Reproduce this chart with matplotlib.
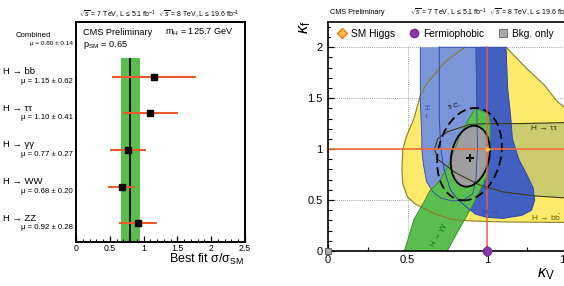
import numpy as np
import matplotlib
matplotlib.use("Agg")
import matplotlib.pyplot as plt
from matplotlib.patches import Ellipse
from matplotlib.lines import Line2D
import matplotlib.transforms as mtransforms

plt.rcParams['font.family'] = ['Liberation Sans', 'DejaVu Sans']
plt.rcParams['mathtext.fontset'] = 'custom'
plt.rcParams['mathtext.rm'] = 'Liberation Sans'
plt.rcParams['mathtext.it'] = 'Liberation Sans:italic'
plt.rcParams['mathtext.sf'] = 'Liberation Sans'
plt.rcParams['mathtext.bf'] = 'Liberation Sans:bold'

# ---------------- left panel data ----------------
channels = ['H → bb', 'H → ττ', 'H → γγ', 'H → WW', 'H → ZZ']
mu = [1.15, 1.10, 0.77, 0.68, 0.92]
mu_err = [0.62, 0.41, 0.27, 0.20, 0.28]
comb_mu = 0.80
comb_err = 0.14
p_sm = 0.65
m_h = 125.7

# ---------------- right panel data (contours) ----------------
bb_kv = [0.86, 0.74, 0.70, 0.616, 0.58, 0.54, 0.49, 0.47, 0.465, 0.47, 0.50, 0.55, 0.60, 0.68, 0.78, 0.90,
         1.10, 1.50, 1.70, 1.78, 1.78, 1.70, 1.55, 1.44, 1.36, 1.25, 1.12]
bb_kf = [2.00, 1.86, 1.79, 1.63, 1.52, 1.30, 1.11, 0.99, 0.80, 0.66, 0.53, 0.46, 0.42, 0.36, 0.31, 0.295,
         0.285, 0.28, 0.28, 0.40, 0.80, 1.10, 1.33, 1.47, 1.63, 1.79, 2.00]
tt_kv = [0.67, 0.69, 0.75, 0.89, 1.00, 1.20, 1.50, 1.80, 1.85, 1.80, 1.50, 1.30, 1.10, 0.95, 0.80, 0.69, 0.67]
tt_kf = [1.00, 1.10, 1.17, 1.24, 1.25, 1.25, 1.26, 1.26, 0.90, 0.52, 0.52, 0.54, 0.58, 0.65, 0.77, 0.90, 1.00]
zz_kv = [0.70, 1.12, 1.13, 1.15, 1.16, 1.20, 1.25, 1.29, 1.30, 1.28, 1.22, 1.10, 1.00, 0.93, 0.88, 0.82,
         0.77, 0.73, 0.71, 0.70, 0.70]
zz_kf = [2.00, 2.00, 1.60, 1.30, 1.10, 0.90, 0.75, 0.62, 0.50, 0.40, 0.35, 0.32, 0.33, 0.36, 0.42, 0.50,
         0.60, 0.80, 1.00, 1.30, 2.00]
ww_kv = [0.58, 0.58, 0.59, 0.59, 0.60, 0.62, 0.66, 0.71, 0.78, 0.85, 0.91, 0.93, 0.94, 0.935, 0.93]
ww_kf = [2.00, 1.50, 1.10, 1.00, 0.85, 0.68, 0.58, 0.52, 0.49, 0.50, 0.56, 0.70, 1.00, 1.50, 2.00]
gg_kv = [0.48, 0.75, 0.82, 0.90, 0.94, 1.00, 1.02, 1.02, 1.01, 0.925, 0.887, 0.824, 0.76, 0.70, 0.64,
         0.60, 0.54, 0.48]
gg_kf = [0.00, 0.00, 0.20, 0.42, 0.54, 0.74, 1.00, 1.25, 1.35, 1.40, 1.30, 1.11, 0.85, 0.68, 0.59,
         0.47, 0.31, 0.00]
# combined best fit and 68% / 95% regions (centre kV, centre kf, width, height, tilt in degrees)
best_fit = (0.893, 0.91)
cl68 = (0.895, 0.93, 0.24, 0.60, -5.5)
cl95 = (0.890, 0.95, 0.40, 0.91, -5.5)
sm_point = (1.0, 1.0)
fermiophobic = (1.0, 0.0)
bkg_only = (0.0, 0.0)

# ---------------- figure ----------------
W, H = 564, 286
fig = plt.figure(figsize=(W / 100, H / 100), dpi=100)

# ===== left panel =====
ax1 = fig.add_axes([76 / W, (H - 241.7) / H, 169 / W, 220 / H])
n = len(channels)
ypos = [n - i - 0.5 for i in range(n)]
ax1.set_xlim(0, 2.5)
ax1.set_ylim(0, n + 1)
ax1.fill_betweenx([0, n], comb_mu - comb_err, comb_mu + comb_err, color='#5bbd4e', lw=0, zorder=1)
ax1.vlines(comb_mu, 0, n, color='black', lw=1.3, zorder=2)
ax1.errorbar(mu, ypos, xerr=mu_err, fmt='s', color='black', ms=4.6, ecolor='#ee5a2a',
             elinewidth=1.5, capsize=0, zorder=3)
ax1.set_yticks([])
ax1.set_xticks(np.arange(0, 2.51, 0.5))
ax1.set_xticklabels(['0', '0.5', '1', '1.5', '2', '2.5'])
ax1.set_xticks(np.arange(0, 2.51, 0.1), minor=True)
ax1.tick_params(axis='x', which='major', direction='in', length=4.5, width=0.9, labelsize=6.3, pad=2)
ax1.tick_params(axis='x', which='minor', direction='in', length=2.5, width=0.8)
for s in ax1.spines.values():
    s.set_linewidth(1.4)

trans = mtransforms.blended_transform_factory(ax1.transAxes, ax1.transData)
for name, y, m, e in zip(channels, ypos, mu, mu_err):
    ax1.text(-0.432, y + 0.14, name, transform=trans, ha='left', va='center', fontsize=6.8)
    ax1.text(-0.018, y - 0.12, f'μ = {m:.2f} ± {e:.2f}', transform=trans, ha='right', va='center',
             fontsize=5.6)
ax1.text(-0.355, n + 0.63, 'Combined', transform=trans, ha='left', va='center', fontsize=5.6)
ax1.text(-0.018, n + 0.41, f'μ = {comb_mu:.2f} ± {comb_err:.2f}', transform=trans, ha='right',
         va='center', fontsize=4.6)
ax1.text(0.041, n + 0.70, 'CMS Preliminary', transform=trans, ha='left', va='center', fontsize=6.6)
ax1.text(0.527, n + 0.70, 'm$_{\\rm H}$ = ' + f'{m_h} GeV', transform=trans, ha='left', va='center',
         fontsize=6.6)
ax1.text(0.041, n + 0.37, 'p$_{\\rm SM}$ = ' + f'{p_sm:.2f}', transform=trans, ha='left', va='center',
         fontsize=6.6)
lumi = '$\\sqrt{s}$ = 7 TeV, L ≤ 5.1 fb$^{-1}$  $\\sqrt{s}$ = 8 TeV, L ≤ 19.6 fb$^{-1}$'
fig.text(79 / W, (H - 15) / H, lumi, ha='left', va='center', fontsize=5)
fig.text(244 / W, (H - 263) / H, 'Best fit σ/σ$_{\\rm SM}$', ha='right', va='baseline', fontsize=9)

# ===== right panel =====
ax2 = fig.add_axes([328 / W, (H - 251) / H, 318 / W, 229.3 / H])
ax2.set_xlim(0, 2.0)
ax2.set_ylim(0, 2.25)
ax2.set_axisbelow(True)
ax2.grid(True, which='major', ls=(0, (1, 1.5)), color='#888888', lw=0.6, zorder=0)

ax2.fill(bb_kv, bb_kf, color='#fde96a', lw=0, zorder=1)
ax2.fill(tt_kv, tt_kf, color='#cccc6e', lw=0, zorder=1.5)
ax2.fill(zz_kv, zz_kf, color='#4360c0', lw=0, zorder=2)
ax2.fill(ww_kv, ww_kf, color='#7b96d6', lw=0, zorder=2.5)
ax2.fill(gg_kv, gg_kf, color='#5bbd4e', lw=0, zorder=3)
e68f = Ellipse(cl68[:2], cl68[2], cl68[3], angle=cl68[4], facecolor='#9e9e9e', edgecolor='none', zorder=4)
ax2.add_patch(e68f)

ax2.plot(bb_kv, bb_kf, color='#8a7e2a', lw=0.8, zorder=5)
ax2.plot(tt_kv, tt_kf, color='#3c3c18', lw=0.8, zorder=5)
ax2.plot(zz_kv, zz_kf, color='#2a48b0', lw=0.7, zorder=5)
ax2.plot(ww_kv, ww_kf, color='#2a48b0', lw=0.6, zorder=5)
ax2.plot(gg_kv, gg_kf, color='#2f8a2f', lw=0.6, zorder=5)
ax2.add_patch(Ellipse(cl68[:2], cl68[2], cl68[3], angle=cl68[4], facecolor='none', edgecolor='black',
                      lw=1.3, zorder=6))
ax2.add_patch(Ellipse(cl95[:2], cl95[2], cl95[3], angle=cl95[4], facecolor='none', edgecolor='black',
                      lw=1.3, ls=(0, (5, 2.5)), zorder=6))
ax2.plot(*best_fit, '+', color='black', ms=6, mew=1.4, zorder=7)

ax2.axhline(sm_point[1], color='#ef6c38', lw=1.4, alpha=0.85, zorder=8)
ax2.axvline(sm_point[0], color='#e8604a', lw=1.2, alpha=0.85, zorder=8)
ax2.plot(*sm_point, 'D', ms=3, mfc='#ffd060', mec='#f08a20', mew=0.6, zorder=9)
ax2.plot(*fermiophobic, 'o', ms=6, mfc='#8a3aa8', mec='#7a2a98', clip_on=False, zorder=12)
ax2.plot(*bkg_only, 's', ms=4.5, mfc='#aaaaaa', mec='#666666', mew=0.8, clip_on=False, zorder=12)

# contour labels
ax2.text(1.277, 1.206, 'H → ττ', color='#333318', fontsize=6, ha='left', va='center', zorder=9)
ax2.text(1.277, 0.325, 'H → b$\\bar{\\rm b}$', color='#6e5e10', fontsize=6, ha='left', va='center', zorder=9)
ax2.text(0.70, 0.15, 'H → γγ', color='#1e6e1e', fontsize=5.5, ha='center', va='center', rotation=62,
         zorder=9)
ax2.text(0.97, 0.375, 'H →', color='#2040c8', fontsize=6, ha='left', va='center', zorder=9)
ax2.text(0.616, 1.37, 'H →', color='#2a48b0', fontsize=5, ha='center', va='center', rotation=-90, zorder=9)
ax2.text(0.80, 1.42, '5 C..', color='black', fontsize=4.5, ha='center', va='center', rotation=15, zorder=9)

ax2.set_xticks([0, 0.5, 1.0, 1.5, 2.0])
ax2.set_xticklabels(['0', '0.5', '1', '1.5', '2'])
ax2.set_xticks(np.arange(0, 2.01, 0.25), minor=True)
ax2.set_yticks([0, 0.5, 1.0, 1.5, 2.0])
ax2.set_yticklabels(['0', '0.5', '1', '1.5', '2'])
ax2.set_yticks(np.arange(0, 2.251, 0.1), minor=True)
ax2.tick_params(which='major', direction='in', length=4.3, width=0.9, labelsize=8)
ax2.tick_params(axis='x', which='major', pad=3)
ax2.tick_params(axis='y', which='major', pad=4)
ax2.tick_params(which='minor', direction='in', length=2.6, width=0.8)
for s in ax2.spines.values():
    s.set_linewidth(1.2)
    s.set_zorder(11)

handles = [Line2D([], [], ls='none', marker='D', ms=5, mfc='#ffc050', mec='#f07a10', mew=1.0),
           Line2D([], [], ls='none', marker='o', ms=6, mfc='#8a3aa8', mec='#7a2a98'),
           Line2D([], [], ls='none', marker='s', ms=5.5, mfc='#aaaaaa', mec='#777777', mew=0.8)]
leg = ax2.legend(handles, ['SM Higgs', 'Fermiophobic', 'Bkg. only'], ncol=3, loc='upper left',
                 bbox_to_anchor=(0.005, 1.0), borderaxespad=0.1, borderpad=0.6, fontsize=7.3,
                 handlelength=1.0, handletextpad=0.4, columnspacing=1.35, frameon=True,
                 fancybox=False, edgecolor='white', facecolor='white', framealpha=1.0)
leg.set_zorder(10)

fig.text(330 / W, (H - 13) / H, 'CMS Preliminary', ha='left', va='center', fontsize=5.2)
fig.text(410 / W, (H - 13) / H, lumi, ha='left', va='center', fontsize=5)
fig.text(305 / W, (H - 27) / H, '$\\kappa_{\\rm f}$', ha='center', va='center', fontsize=12, rotation=90)
fig.text(546 / W, (H - 274) / H, '$\\kappa_{\\rm V}$', ha='center', va='center', fontsize=12)

fig.savefig('out.png', dpi=100)
